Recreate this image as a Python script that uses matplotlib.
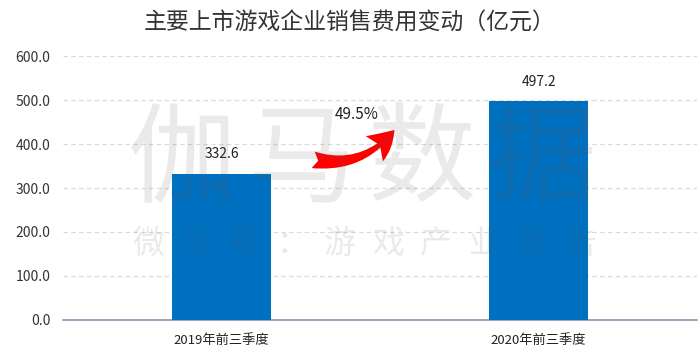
import matplotlib.pyplot as plt
import numpy as np

plt.rcParams['font.family'] = ['Noto Sans CJK SC', 'DejaVu Sans']

categories = ['2019年前三季度', '2020年前三季度']
values = [332.6, 497.2]
growth_label = '49.5%'
title = '主要上市游戏企业销售费用变动（亿元）'
yticks = [0, 100, 200, 300, 400, 500, 600]
wm_big = '伽马数据'
wm_small = '微信号：游戏产业报告'

W, H = 700, 364
fig = plt.figure(figsize=(7, 3.64), dpi=100)
ax = fig.add_axes([0.09, 0.121, 0.906, 0.725])

x = np.arange(len(categories))
ax.bar(x, values, width=0.31, color='#0070C0', zorder=3)

for xi, v in zip(x, values):
    ax.text(xi, v + 28, f'{v:.1f}', ha='center', va='bottom', fontsize=10, color='#222222', zorder=4)

ax.set_xlim(-0.5, 1.5)
ax.set_ylim(0, 600)
ax.set_yticks(yticks)
ax.set_yticklabels([f'{t:.1f}' for t in yticks], fontsize=10, color='#333333')
ax.set_xticks(x)
ax.set_xticklabels(categories, fontsize=9.5, color='#222222')
ax.tick_params(axis='both', length=0, pad=9)
ax.tick_params(axis='x', pad=10)

ax.yaxis.grid(True, linestyle=(0, (4, 3)), color='#d9d9d9', linewidth=0.8, zorder=0)
for s in ['top', 'right', 'left']:
    ax.spines[s].set_visible(False)
ax.spines['bottom'].set_color('#8497b0')
ax.spines['bottom'].set_linewidth(1.2)

# semi-transparent watermark over the plot
for i, ch in enumerate(wm_big):
    fig.text((182 + 120 * i) / W, 1 - 163 / H, ch, ha='center', va='center',
             fontsize=78, color='#606060', alpha=0.13, zorder=10)
for i, ch in enumerate(wm_small):
    fig.text((148 + 48 * i) / W, 1 - 244 / H, ch, ha='center', va='center',
             fontsize=23, color='#606060', alpha=0.13, zorder=10)

# growth arrow
ax.annotate('', xy=(0.545, 432), xytext=(0.289, 364), xycoords='data',
            arrowprops=dict(arrowstyle='fancy,head_width=1.0,head_length=0.9,tail_width=0.55',
                            connectionstyle='arc3,rad=0.3', color='#ff0000', lw=0,
                            mutation_scale=22, shrinkA=0, shrinkB=0),
            zorder=5)
ax.text(0.427, 466, growth_label, ha='center', va='center', fontsize=11, color='#222222', zorder=4)

fig.text(0.5, 0.94, title, ha='center', va='center', fontsize=16.5, color='#333333')

fig.savefig('out.png', dpi=100)
